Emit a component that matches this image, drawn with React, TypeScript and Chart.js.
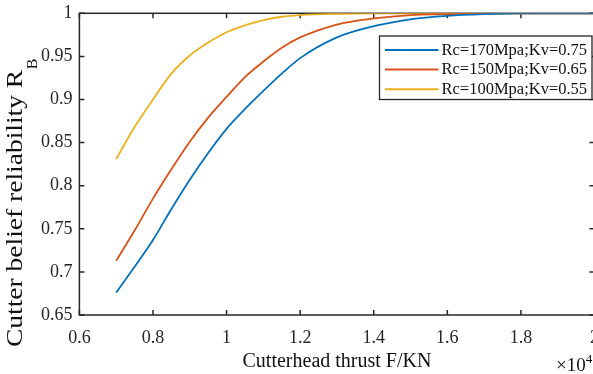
import React, { useEffect, useRef } from "react";
import { Chart, registerables } from "chart.js";

Chart.register(...registerables);

// ---- data (thrust in units of 10^4 kN) ----
const thrust = [0.70, 0.75, 0.80, 0.85, 0.90, 0.95, 1.00, 1.05, 1.10, 1.15, 1.20, 1.30, 1.40, 1.50, 1.60, 1.70, 1.80, 1.90, 2.00];
const seriesLabels = ["Rc=170Mpa;Kv=0.75", "Rc=150Mpa;Kv=0.65", "Rc=100Mpa;Kv=0.55"];
const rc170 = [0.676, 0.706, 0.737, 0.773, 0.807, 0.838, 0.866, 0.889, 0.910, 0.930, 0.948, 0.972, 0.985, 0.993, 0.997, 0.999, 1.0, 1.0, 1.0];
const rc150 = [0.713, 0.748, 0.785, 0.819, 0.851, 0.879, 0.903, 0.926, 0.944, 0.960, 0.972, 0.987, 0.994, 0.998, 0.999, 1.0, 1.0, 1.0, 1.0];
const rc100 = [0.831, 0.868, 0.900, 0.930, 0.951, 0.966, 0.978, 0.986, 0.992, 0.996, 0.998, 0.9995, 1.0, 1.0, 1.0, 1.0, 1.0, 1.0, 1.0];
const seriesColors = ["#0072BD", "#D95319", "#EDB120"];

const xTitle = "Cutterhead thrust F/KN";
const yTitle = "Cutter belief reliability R";
const yTitleSub = "B";
const xMultiplier = "\u00D710";
const xExponent = "4";

const SERIF = '"Liberation Serif", "Times New Roman", serif';
const INK = "#262626";

const toPoints = (ys: number[]) => thrust.map((x, i) => ({ x, y: ys[i] }));

const decorPlugin = {
  id: "matlabDecor",
  beforeDatasetsDraw(chart: any) {
    const { ctx, chartArea: a, scales } = chart;
    const x = scales.x, y = scales.y;
    ctx.save();
    ctx.strokeStyle = INK;
    ctx.lineWidth = 1.5;
    ctx.strokeRect(a.left, a.top, a.right - a.left, a.bottom - a.top);
    const tl = 5;
    ctx.beginPath();
    x.ticks.forEach((t: any) => {
      const px = x.getPixelForValue(t.value);
      ctx.moveTo(px, a.bottom);
      ctx.lineTo(px, a.bottom - tl);
      ctx.moveTo(px, a.top);
      ctx.lineTo(px, a.top + tl);
    });
    y.ticks.forEach((t: any) => {
      const py = y.getPixelForValue(t.value);
      ctx.moveTo(a.left, py);
      ctx.lineTo(a.left + tl, py);
      ctx.moveTo(a.right, py);
      ctx.lineTo(a.right - tl, py);
    });
    ctx.stroke();
    ctx.restore();
  },
  afterDraw(chart: any) {
    const { ctx } = chart;
    ctx.save();
    // legend box
    const L = 379.5, T = 36, R = 592, B = 99.5;
    ctx.fillStyle = "#ffffff";
    ctx.fillRect(L, T, R - L, B - T);
    ctx.strokeStyle = INK;
    ctx.lineWidth = 1.3;
    ctx.strokeRect(L, T, R - L, B - T);
    ctx.font = `16.5px ${SERIF}`;
    ctx.textBaseline = "middle";
    ctx.textAlign = "left";
    chart.data.datasets.forEach((ds: any, i: number) => {
      const ry = 50 + i * 19.6;
      ctx.strokeStyle = ds.borderColor;
      ctx.lineWidth = 2;
      ctx.beginPath();
      ctx.moveTo(385, ry);
      ctx.lineTo(438.5, ry);
      ctx.stroke();
      ctx.fillStyle = "#111";
      ctx.fillText(ds.label, 441.5, ry + 0.5);
    });

    // y title with subscript
    ctx.save();
    ctx.translate(22, 347);
    ctx.rotate(-Math.PI / 2);
    ctx.scale(1, 0.87);
    ctx.fillStyle = "#111";
    ctx.textBaseline = "alphabetic";
    ctx.font = `27.5px ${SERIF}`;
    ctx.fillText(yTitle, 0, 0);
    const w = ctx.measureText(yTitle).width;
    ctx.font = `16px ${SERIF}`;
    ctx.fillText(yTitleSub, w + 0.5, 17);
    ctx.restore();

    // x multiplier
    ctx.fillStyle = "#111";
    ctx.textBaseline = "alphabetic";
    ctx.font = `19px ${SERIF}`;
    ctx.fillText(xMultiplier, 556, 371);
    const mw = ctx.measureText(xMultiplier).width;
    ctx.font = `13px ${SERIF}`;
    ctx.fillText(xExponent, 556 + mw, 363);
    ctx.restore();
  },
};

export default function App() {
  const ref = useRef<HTMLCanvasElement | null>(null);

  useEffect(() => {
    if (!ref.current) return;
    const chart = new Chart(ref.current, {
      type: "line",
      data: {
        datasets: [
          { label: seriesLabels[0], data: toPoints(rc170), borderColor: seriesColors[0] },
          { label: seriesLabels[1], data: toPoints(rc150), borderColor: seriesColors[1] },
          { label: seriesLabels[2], data: toPoints(rc100), borderColor: seriesColors[2] },
        ].map((d) => ({
          ...d,
          borderWidth: 1.8,
          pointRadius: 0,
          fill: false,
          cubicInterpolationMode: "monotone" as const,
        })),
      },
      options: {
        responsive: false,
        animation: false,
        events: [],
        layout: { padding: { left: 0, right: 1.5, top: 13.3, bottom: 0 } },
        plugins: { legend: { display: false }, tooltip: { enabled: false } },
        scales: {
          x: {
            type: "linear",
            min: 0.6,
            max: 2,
            border: { display: false },
            grid: { display: false, drawTicks: false },
            ticks: {
              stepSize: 0.2,
              padding: 12,
              color: INK,
              font: { family: SERIF, size: 18 },
              maxRotation: 0,
              autoSkip: false,
              callback: (v: any) => String(+Number(v).toFixed(2)),
            },
            title: {
              display: true,
              text: xTitle,
              color: "#111",
              font: { family: SERIF, size: 20 },
              padding: { top: 0, bottom: 0 },
            },
            afterFit: (s: any) => {
              s.height = 59;
              s.paddingLeft = 0;
              s.paddingRight = 0;
            },
          },
          y: {
            type: "linear",
            min: 0.65,
            max: 1,
            border: { display: false },
            grid: { display: false, drawTicks: false },
            ticks: {
              stepSize: 0.05,
              padding: 7,
              color: INK,
              font: { family: SERIF, size: 18 },
              callback: (v: any) => String(+Number(v).toFixed(3)),
            },
            afterFit: (s: any) => {
              s.width = 79.4;
              s.paddingTop = 0;
              s.paddingBottom = 0;
            },
          },
        },
      },
      plugins: [decorPlugin],
    });
    return () => chart.destroy();
  }, []);

  return (
    <div
      style={{
        position: "fixed",
        left: 0,
        top: 0,
        width: 593,
        height: 374,
        overflow: "hidden",
        background: "#fff",
      }}
    >
      <canvas ref={ref} width={596} height={374} style={{ display: "block" }} />
    </div>
  );
}
